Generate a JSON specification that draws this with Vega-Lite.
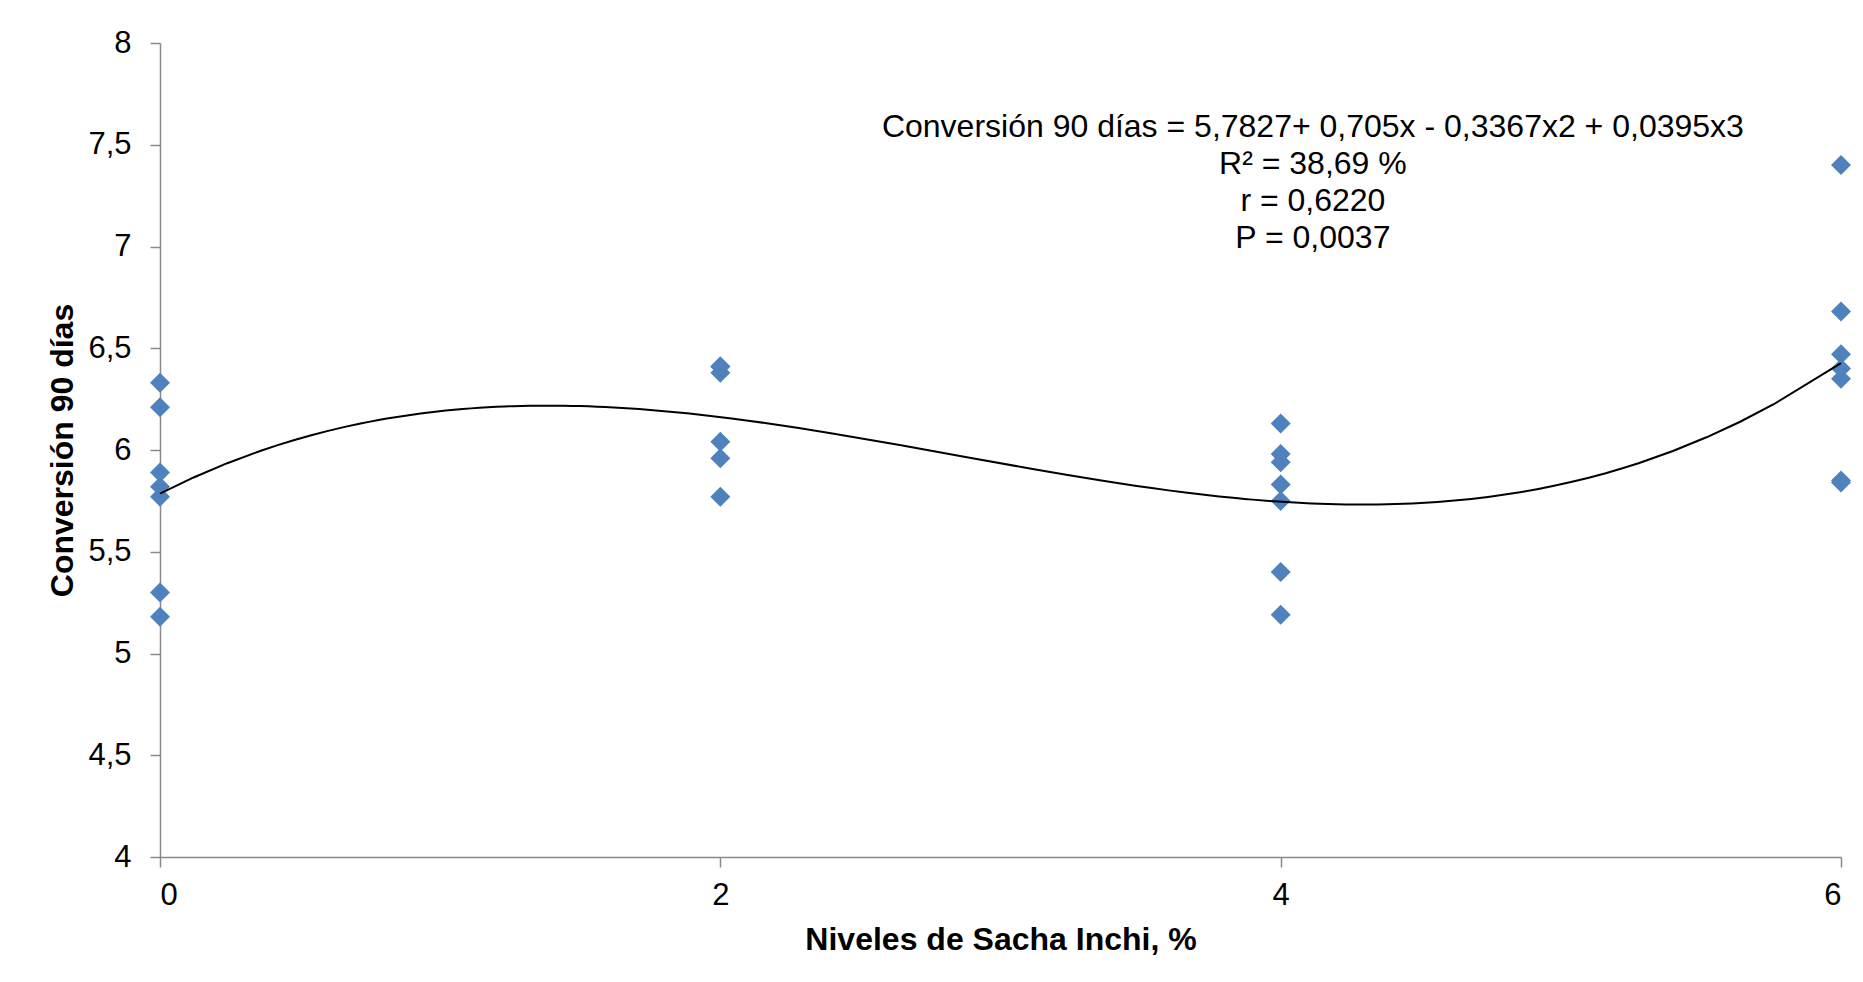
{
  "$schema": "https://vega.github.io/schema/vega-lite/v6.json",
  "autosize": {"type": "none"},
  "width": 1681,
  "height": 814,
  "padding": {"left": 160, "top": 43, "right": 22, "bottom": 125},
  "background": "white",
  "config": {
    "view": {"stroke": null},
    "font": "Liberation Sans"
  },
  "data": {
    "values": [
      {"nivel": 0, "conversion": 6.33},
      {"nivel": 0, "conversion": 6.21},
      {"nivel": 0, "conversion": 5.89},
      {"nivel": 0, "conversion": 5.82},
      {"nivel": 0, "conversion": 5.77},
      {"nivel": 0, "conversion": 5.30},
      {"nivel": 0, "conversion": 5.18},
      {"nivel": 2, "conversion": 6.41},
      {"nivel": 2, "conversion": 6.41},
      {"nivel": 2, "conversion": 6.38},
      {"nivel": 2, "conversion": 6.04},
      {"nivel": 2, "conversion": 5.96},
      {"nivel": 2, "conversion": 5.77},
      {"nivel": 4, "conversion": 6.13},
      {"nivel": 4, "conversion": 5.98},
      {"nivel": 4, "conversion": 5.94},
      {"nivel": 4, "conversion": 5.83},
      {"nivel": 4, "conversion": 5.75},
      {"nivel": 4, "conversion": 5.40},
      {"nivel": 4, "conversion": 5.19},
      {"nivel": 6, "conversion": 7.40},
      {"nivel": 6, "conversion": 6.68},
      {"nivel": 6, "conversion": 6.47},
      {"nivel": 6, "conversion": 6.40},
      {"nivel": 6, "conversion": 6.35},
      {"nivel": 6, "conversion": 5.85},
      {"nivel": 6, "conversion": 5.84}
    ]
  },
  "encoding": {
    "x": {
      "field": "nivel",
      "type": "quantitative",
      "scale": {"domain": [0, 6], "nice": false, "zero": false},
      "axis": {
        "title": "Niveles de Sacha Inchi, %",
        "values": [0, 2, 4, 6],
        "grid": false,
        "domainColor": "#898989",
        "domainWidth": 1.5,
        "tickColor": "#898989",
        "tickWidth": 1.5,
        "tickSize": 10,
        "labelPadding": 13,
        "labelFontSize": 31,
        "labelColor": "#000000",
        "labelFont": "Liberation Sans",
        "titleFont": "Liberation Sans",
        "titleFontSize": 32,
        "titleFontWeight": "bold",
        "titleColor": "#000000",
        "titleX": 840.5,
        "titleY": 92,
        "titleAlign": "center",
        "titleBaseline": "alphabetic"
      }
    },
    "y": {
      "field": "conversion",
      "type": "quantitative",
      "scale": {"domain": [4, 8], "nice": false, "zero": false},
      "axis": {
        "title": "Conversión 90 días",
        "values": [4, 4.5, 5, 5.5, 6, 6.5, 7, 7.5, 8],
        "labelExpr": "replace(format(datum.value, '~g'), '.', ',')",
        "grid": false,
        "domainColor": "#898989",
        "domainWidth": 1.5,
        "tickColor": "#898989",
        "tickWidth": 1.5,
        "tickSize": 10,
        "labelPadding": 19,
        "labelFontSize": 31,
        "labelColor": "#000000",
        "labelFont": "Liberation Sans",
        "titleFont": "Liberation Sans",
        "titleFontSize": 32,
        "titleFontWeight": "bold",
        "titleColor": "#000000",
        "titleAngle": -90,
        "titleX": -98,
        "titleY": 407,
        "titleAlign": "center",
        "titleBaseline": "middle"
      }
    }
  },
  "layer": [
    {
      "mark": {"type": "point", "shape": "diamond", "filled": true, "size": 400, "color": "#4F81BD", "opacity": 1}
    },
    {
      "transform": [
        {"regression": "conversion", "on": "nivel", "method": "poly", "order": 3, "extent": [0, 6]}
      ],
      "mark": {"type": "line", "color": "#000000", "strokeWidth": 2}
    },
    {
      "transform": [
        {"aggregate": [
          {"op": "max", "field": "nivel", "as": "nivel"},
          {"op": "max", "field": "conversion", "as": "conversion"}
        ]}
      ],
      "mark": {
        "type": "text",
        "text": [
          "Conversión 90 días = 5,7827+ 0,705x  - 0,3367x2 + 0,0395x3",
          "R² = 38,69 %",
          "r = 0,6220",
          "P = 0,0037"
        ],
        "font": "Liberation Sans",
        "fontSize": 32,
        "fontWeight": "normal",
        "lineHeight": 37,
        "align": "center",
        "baseline": "middle",
        "fill": "#000000",
        "strokeWidth": 0
      },
      "encoding": {
        "x": {"datum": 4.115},
        "y": {"datum": 7.587}
      }
    }
  ]
}
